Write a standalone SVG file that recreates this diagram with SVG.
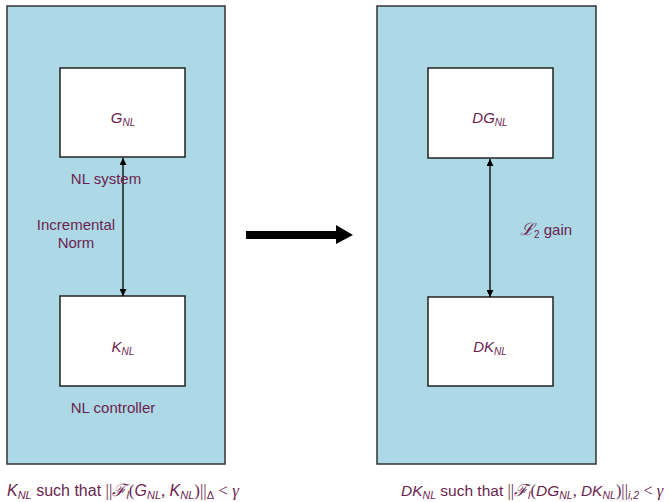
<svg xmlns="http://www.w3.org/2000/svg" width="670" height="502" viewBox="0 0 670 502">
<style>
.panel{fill:#add8e6;stroke:#333;stroke-width:1.5}
.box{fill:#fff;stroke:#222;stroke-width:1.5}
.t{font-family:"Liberation Sans",Arial,sans-serif;font-size:15px;fill:#6b1f4f}
.b{font-size:16px}
.i{font-style:italic}
.m{font-family:"Liberation Serif","Times New Roman",serif;font-size:17px}
.sub{font-size:10px}
.bsub{font-size:11px}
.r{font-size:15.5px}
.r .m{font-size:16.5px}
.r .bsub{font-size:10.5px}
.conn{stroke:#000;stroke-width:1.3;fill:none}
</style>
<defs>
<marker id="ah" viewBox="0 0 10 10" refX="10" refY="5" markerWidth="7" markerHeight="7" orient="auto-start-reverse" markerUnits="userSpaceOnUse">
<path d="M0,0 L10,5 L0,10 Z" fill="#000"/>
</marker>
</defs>
<g id="left-panel">
<rect class="panel" x="7" y="6" width="218" height="458"/>
</g>
<g id="right-panel">
<rect class="panel" x="377" y="6" width="219" height="458"/>
</g>
<g id="G">
<rect class="box" x="60" y="68" width="125" height="89"/>
<text class="t i" x="123" y="123" text-anchor="middle">G<tspan class="sub" dy="3">NL</tspan></text>
</g>
<g id="K">
<rect class="box" x="60" y="296" width="125" height="90"/>
<text class="t i" x="123" y="352" text-anchor="middle">K<tspan class="sub" dy="3">NL</tspan></text>
</g>
<g id="DG">
<rect class="box" x="428" y="68" width="125" height="90"/>
<text class="t i" x="490" y="123" text-anchor="middle">DG<tspan class="sub" dy="3">NL</tspan></text>
</g>
<g id="DK">
<rect class="box" x="428" y="297" width="125" height="89"/>
<text class="t i" x="490" y="352" text-anchor="middle">DK<tspan class="sub" dy="3">NL</tspan></text>
</g>
<g id="connectors">
<line class="conn" x1="123" y1="158" x2="123" y2="296" marker-start="url(#ah)" marker-end="url(#ah)"/>
<line class="conn" x1="490" y1="159" x2="490" y2="297" marker-start="url(#ah)" marker-end="url(#ah)"/>
<path d="M246,231 L336,231 L336,225 L353,235 L336,244 L336,239 L246,239 Z" fill="#000"/>
</g>
<g id="labels">
<text class="t" x="106" y="184" text-anchor="middle">NL system</text>
<text class="t" x="76" y="230" text-anchor="middle">Incremental</text>
<text class="t" x="76" y="248" text-anchor="middle">Norm</text>
<text class="t" x="113" y="413" text-anchor="middle">NL controller</text>
<text class="t" x="520" y="235"><tspan class="m i">ℒ</tspan><tspan class="sub" dy="3">2</tspan><tspan dy="-3"> gain</tspan></text>
<text class="t b" x="7" y="496"><tspan class="i">K</tspan><tspan class="i bsub" dy="3">NL</tspan><tspan dy="-3"> such that </tspan><tspan class="m">||</tspan><tspan class="m i">ℱ</tspan><tspan class="i bsub" dy="3">l</tspan><tspan class="m" dy="-3">(</tspan><tspan class="i">G</tspan><tspan class="i bsub" dy="3">NL</tspan><tspan class="m" dy="-3">, </tspan><tspan class="i">K</tspan><tspan class="i bsub" dy="3">NL</tspan><tspan class="m" dy="-3">)||</tspan><tspan class="bsub" dy="3">Δ</tspan><tspan class="m" dy="-3"> &lt; </tspan><tspan class="m i">γ</tspan></text>
<text class="t r" x="401" y="496"><tspan class="i">DK</tspan><tspan class="i bsub" dy="3">NL</tspan><tspan dy="-3"> such that </tspan><tspan class="m">||</tspan><tspan class="m i">ℱ</tspan><tspan class="i bsub" dy="3">l</tspan><tspan class="m" dy="-3">(</tspan><tspan class="i">DG</tspan><tspan class="i bsub" dy="3">NL</tspan><tspan class="m" dy="-3">, </tspan><tspan class="i">DK</tspan><tspan class="i bsub" dy="3">NL</tspan><tspan class="m" dy="-3">)||</tspan><tspan class="i bsub" dy="3">i,2</tspan><tspan class="m" dy="-3"> &lt; </tspan><tspan class="m i">γ</tspan></text>
</g>
</svg>
